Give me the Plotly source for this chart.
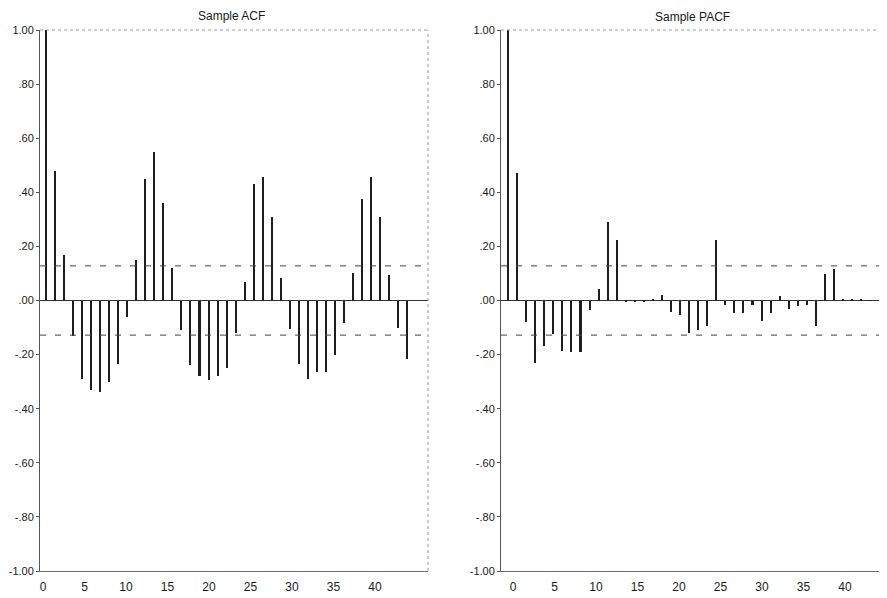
import plotly.graph_objects as go

# ---------------- data ----------------
lags = list(range(41))
acf = [1.00, 0.48, 0.17, -0.13, -0.29, -0.33, -0.34, -0.30, -0.235, -0.06,
       0.15, 0.45, 0.55, 0.36, 0.12, -0.11, -0.24, -0.28, -0.295, -0.28,
       -0.25, -0.12, 0.07, 0.43, 0.455, 0.31, 0.085, -0.105, -0.235, -0.29,
       -0.265, -0.265, -0.20, -0.085, 0.10, 0.375, 0.455, 0.31, 0.095, -0.10,
       -0.215]
pacf = [1.00, 0.47, -0.08, -0.232, -0.168, -0.122, -0.187, -0.19, -0.19, -0.035,
        0.043, 0.29, 0.225, -0.004, -0.003, -0.004, 0.002, 0.022, -0.042, -0.052,
        -0.12, -0.11, -0.096, 0.222, -0.015, -0.047, -0.047, -0.015, -0.074, -0.047,
        0.016, -0.031, -0.02, -0.015, -0.093, 0.099, 0.117, 0.002, 0.004, 0.002,
        0.001]
band = 0.128
y_tickvals = [1.0, 0.8, 0.6, 0.4, 0.2, 0.0, -0.2, -0.4, -0.6, -0.8, -1.0]
y_ticktext = ["1.00", ".80", ".60", ".40", ".20", ".00", "-.20", "-.40", "-.60", "-.80", "-1.00"]
x_tickvals = [0, 5, 10, 15, 20, 25, 30, 35, 40]
x_ticktext = ["0", "5", "10", "15", "20", "25", "30", "35", "40"]
titles = ["Sample ACF", "Sample PACF"]

# ---------------- layout geometry ----------------
# the page body has an 8px margin, so the figure is offset by 8px on screen
OFF = 8
W, H = 887 - OFF, 598 - OFF
def fx(px):
    return (px - OFF) / W
def fy(py):
    return 1 - (py - OFF) / H

font = dict(family="Liberation Sans, Arial, sans-serif", size=12, color="#1a1a1a")
yfont = dict(family="Liberation Sans, Arial, sans-serif", size=11, color="#1a1a1a")
bar_color = "#1e1e1e"

fig = go.Figure()
fig.add_trace(go.Bar(x=lags, y=acf, width=0.17, marker=dict(color=bar_color, line=dict(width=0)),
                     xaxis="x", yaxis="y", showlegend=False))
fig.add_trace(go.Bar(x=lags, y=pacf, width=0.17, marker=dict(color=bar_color, line=dict(width=0)),
                     xaxis="x2", yaxis="y2", showlegend=False))
# invisible traces that carry the tick-label axes
fig.add_trace(go.Scatter(x=[x_tickvals[0]], y=[0], mode="markers", marker=dict(opacity=0),
                         xaxis="x3", yaxis="y", showlegend=False, hoverinfo="skip"))
fig.add_trace(go.Scatter(x=[x_tickvals[0]], y=[0], mode="markers", marker=dict(opacity=0),
                         xaxis="x4", yaxis="y2", showlegend=False, hoverinfo="skip"))

ydom = [fy(571), fy(30)]
left_dom = [fx(40), fx(428)]
right_dom = [fx(501), 1.0]

common_x = dict(showgrid=False, zeroline=False, showticklabels=False, ticks="",
                showline=True, linecolor="#707070", linewidth=1, automargin=False)
label_x = dict(showgrid=False, zeroline=False, showline=False, ticks="outside",
               ticklen=5, tickcolor="rgba(0,0,0,0)", tickmode="array",
               tickvals=x_tickvals, ticktext=x_ticktext, tickfont=font,
               automargin=False, side="bottom")
common_y = dict(range=[-1, 1], showgrid=False, zeroline=True, zerolinecolor="#333333",
                zerolinewidth=1, showline=True, linecolor="#555555", linewidth=1,
                ticks="outside", ticklen=3, tickcolor="#555555", tickmode="array",
                tickvals=y_tickvals, ticktext=y_ticktext, tickfont=yfont, automargin=False)

fig.update_layout(
    width=W, height=H, margin=dict(l=0, r=0, t=0, b=0),
    paper_bgcolor="white", plot_bgcolor="white", template="none",
    bargap=0, showlegend=False,
    xaxis=dict(domain=left_dom, range=[-0.70, 42.29], anchor="y", **common_x),
    xaxis2=dict(domain=right_dom, range=[-0.807, 41.83], anchor="y2", **common_x),
    xaxis3=dict(overlaying="x", anchor="y", range=[-0.361, 46.39], **label_x),
    xaxis4=dict(overlaying="x2", anchor="y2", range=[-1.446, 45.06], **label_x),
    yaxis=dict(domain=ydom, anchor="x", **common_y),
    yaxis2=dict(domain=ydom, anchor="x2", **common_y),
)

shapes = []
for xr, yr in (("x", "y"), ("x2", "y2")):
    # significance bands
    for b in (band, -band):
        shapes.append(dict(type="line", xref=f"{xr} domain", yref=yr, x0=0, x1=1, y0=b, y1=b,
                           line=dict(color="#444444", width=1, dash="6px,9px")))
    # top border (dotted)
    shapes.append(dict(type="line", xref=f"{xr} domain", yref=f"{yr} domain", x0=0, x1=1, y0=1, y1=1,
                       line=dict(color="#9a9a9a", width=1, dash="dot")))
# right border of the left panel (dotted)
shapes.append(dict(type="line", xref="x domain", yref="y domain", x0=1, x1=1, y0=0, y1=1,
                   line=dict(color="#9a9a9a", width=1, dash="dot")))
fig.update_layout(shapes=shapes)

fig.update_layout(annotations=[
    dict(text=titles[0], x=fx(232), y=fy(16), xref="paper", yref="paper", showarrow=False,
         font=font, xanchor="center", yanchor="middle"),
    dict(text=titles[1], x=fx(692), y=fy(17), xref="paper", yref="paper", showarrow=False,
         font=font, xanchor="center", yanchor="middle"),
])

fig.write_html("out.html")
